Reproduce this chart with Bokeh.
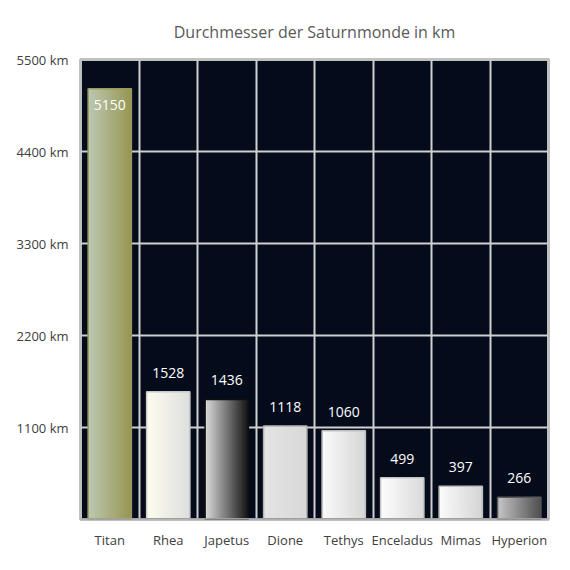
from bokeh.plotting import figure
from bokeh.models import FixedTicker, PrintfTickFormatter, ColumnDataSource, Span
from bokeh.core.properties import value
from bokeh.embed import file_html
from bokeh.resources import INLINE

moons = ["Titan", "Rhea", "Japetus", "Dione", "Tethys", "Enceladus", "Mimas", "Hyperion"]
diameters = [5150, 1528, 1436, 1118, 1060, 499, 397, 266]
y_ticks = [1100, 2200, 3300, 4400, 5500]
title_text = "Durchmesser der Saturnmonde in km"

left_colors = ["#bcc8b2", "#fdfdee", "#dcdcdc", "#e4e4e4", "#fafafa", "#fdfdfd", "#fbfbfb", "#c6c6c6"]
right_colors = ["#989652", "#dedede", "#121212", "#d8d8d8", "#d6d6d6", "#dadada", "#d4d4d4", "#4e4e4e"]
border_colors = ["#9a9a5c", "#c8c8c8", "#101010", "#b4b4b4", "#bdbdbd", "#c4c4c4", "#bdbdbd", "#5a5a5a"]

BAR_W = 0.74
N_STRIPS = 24


def hex2rgb(h):
    h = h.lstrip("#")
    return tuple(int(h[i:i + 2], 16) for i in (0, 2, 4))


def lerp(c1, c2, t):
    a, b = hex2rgb(c1), hex2rgb(c2)
    return "#%02x%02x%02x" % tuple(round(a[k] + (b[k] - a[k]) * t) for k in range(3))


p = figure(width=570, height=570, x_range=(0, len(moons)), y_range=(0, 5500),
           output_backend="svg", toolbar_location=None,
           min_border_left=80, min_border_right=22, min_border_top=59, min_border_bottom=51,
           background_fill_color="#040b1a", border_fill_color="white")

p.title.text = title_text
p.title.align = "center"
p.title.text_font = "Open Sans"
p.title.text_font_size = "16px"
p.title.text_font_style = "normal"
p.title.text_color = "#595959"
p.title.offset = 0
p.title.standoff = 33

# gradient strips
lefts, rights, tops, colors = [], [], [], []
for i, d in enumerate(diameters):
    x0 = i + 0.5 - BAR_W / 2
    sw = BAR_W / N_STRIPS
    for k in range(N_STRIPS):
        lefts.append(x0 + k * sw)
        rights.append(min(x0 + (k + 1.6) * sw, x0 + BAR_W))
        tops.append(d)
        colors.append(lerp(left_colors[i], right_colors[i], (k + 0.5) / N_STRIPS))
p.quad(left=lefts, right=rights, bottom=0, top=tops, fill_color=colors, line_color=None)

centers = [i + 0.5 for i in range(len(moons))]
src = ColumnDataSource(dict(
    x=centers, top=diameters,
    left=[c - BAR_W / 2 for c in centers], right=[c + BAR_W / 2 for c in centers],
    border=border_colors, label=[str(d) for d in diameters],
    off=[16 if d > 0.9 * y_ticks[-1] else -19 for d in diameters],
))
p.quad(left="left", right="right", bottom=0, top="top", fill_color=None,
       line_color="border", line_width=1.5, source=src)
p.text(x="x", y="top", text="label", y_offset="off", text_align="center",
       text_baseline="middle", text_color="white", text_font=value("Open Sans"),
       text_font_size="14px", source=src)

# grids
p.xgrid.ticker = FixedTicker(ticks=list(range(1, len(moons))))
p.xgrid.grid_line_color = "#d0d0d0"
p.xgrid.grid_line_width = 2
p.ygrid.ticker = FixedTicker(ticks=y_ticks)
p.ygrid.grid_line_color = "#d0d0d0"
p.ygrid.grid_line_width = 2

p.outline_line_color = "#c0c0c0"
p.outline_line_width = 3
p.add_layout(Span(location=0, dimension="width", line_color="#a0a0a0", line_width=3))

# axes
p.xaxis.ticker = FixedTicker(ticks=centers)
p.xaxis.major_label_overrides = {c: m for c, m in zip(centers, moons)}
p.yaxis.ticker = FixedTicker(ticks=y_ticks)
p.yaxis.formatter = PrintfTickFormatter(format="%d km")
for ax in (p.xaxis, p.yaxis):
    ax.axis_line_color = None
    ax.major_tick_line_color = None
    ax.minor_tick_line_color = None
    ax.major_label_text_font = "Open Sans"
    ax.major_label_text_font_size = "13px"
    ax.major_label_text_color = "#404040"
p.xaxis.major_label_standoff = 5
p.yaxis.major_label_standoff = 6

open("out.html", "w").write(file_html(p, INLINE))
